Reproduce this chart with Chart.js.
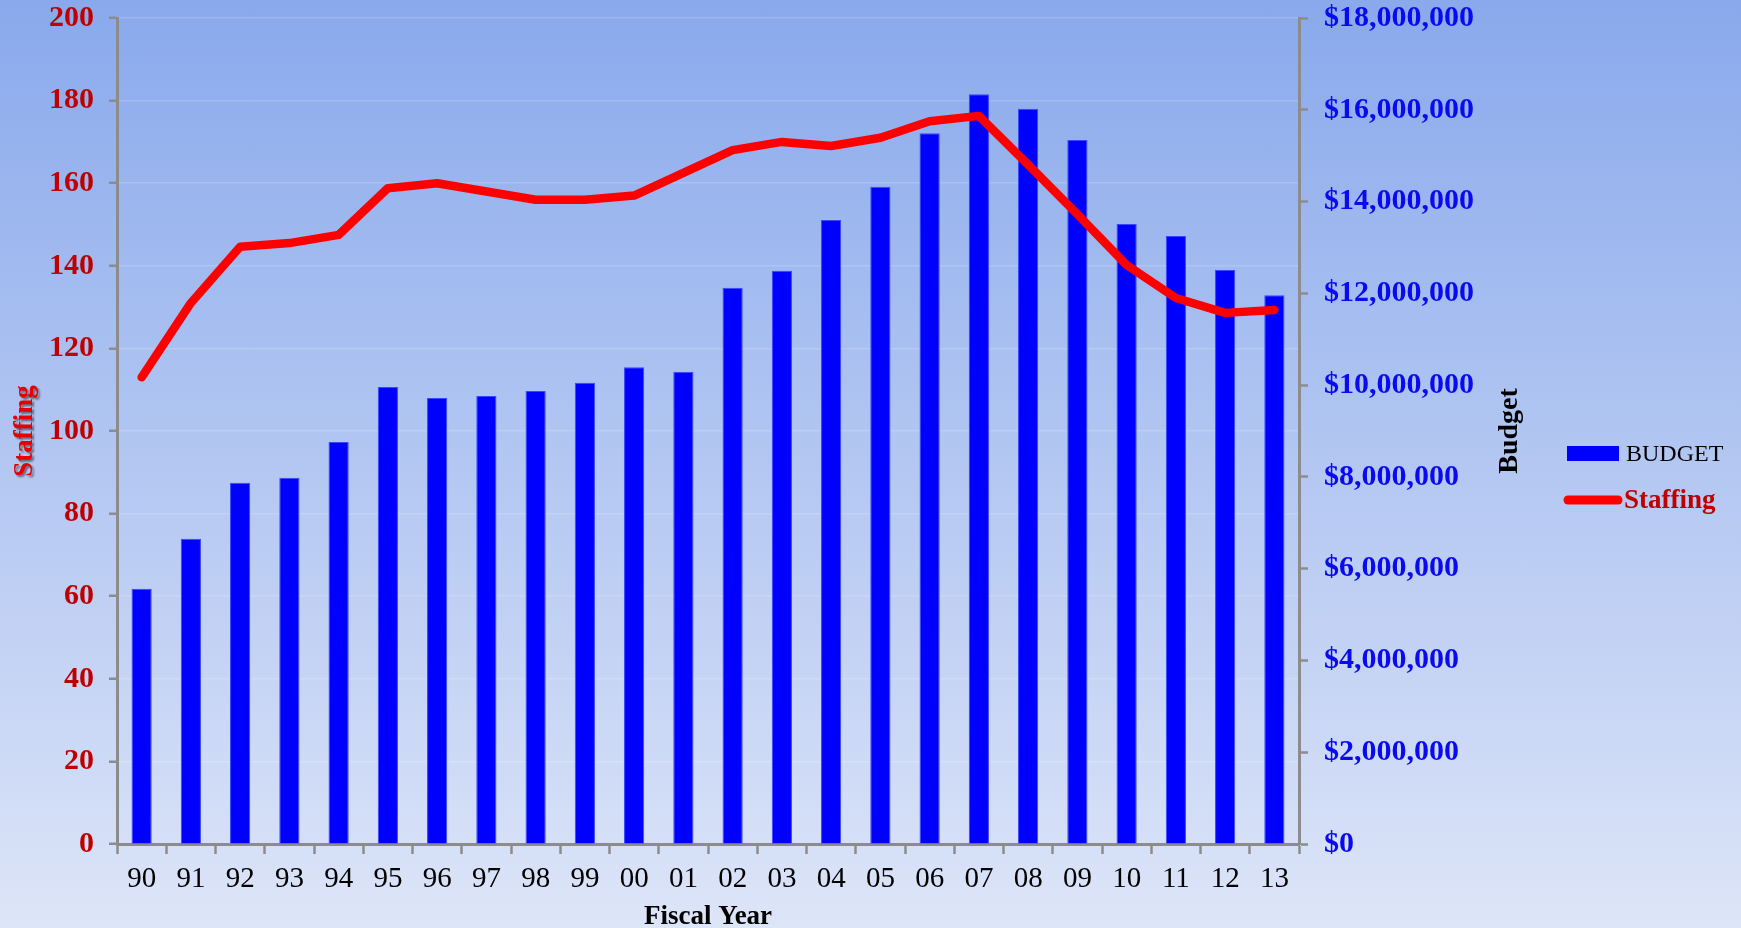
<!DOCTYPE html>
<html><head><meta charset="utf-8">
<script src="https://cdn.jsdelivr.net/npm/chart.js@4/dist/chart.umd.min.js"></script>
<style>
html,body{margin:0;padding:0;}
body{width:1741px;height:928px;background:linear-gradient(to bottom,#89a9ec 0%,#dde5f8 100%);overflow:hidden;}
canvas{display:block;}
</style></head><body>
<canvas id="c" width="1741" height="928"></canvas>
<script>
const fiscalYears = ['90','91','92','93','94','95','96','97','98','99','00','01','02','03','04','05','06','07','08','09','10','11','12','13'];
const staffing = [113, 131, 144.6, 145.5, 147.5, 158.8, 160, 158, 156, 156, 157, 162.5, 168, 170, 169, 171, 175, 176.3, 164.5, 152.5, 140.2, 132.2, 128.6, 129.3];
const budget = [5560000, 6650000, 7870000, 7980000, 8760000, 9960000, 9720000, 9760000, 9870000, 10050000, 10390000, 10290000, 12120000, 12490000, 13600000, 14320000, 15490000, 16340000, 16020000, 15340000, 13510000, 13250000, 12510000, 11960000];
const staffingAxis = { min: 0, max: 200, step: 20 };
const budgetAxis = { min: 0, max: 18000000, step: 2000000 };

const AXIS_GRAY = '#8c8c8c';
const SERIF = '"Liberation Serif", "DejaVu Serif", serif';

const titlesAndLegend = {
  id: 'titlesAndLegend',
  afterDraw(chart) {
    const ctx = chart.ctx; const a = chart.chartArea;
    const midY = (a.top + a.bottom) / 2;
    // Staffing title
    ctx.save();
    ctx.translate(25, midY);
    ctx.rotate(-Math.PI / 2);
    ctx.font = 'bold 27px ' + SERIF;
    ctx.textAlign = 'center'; ctx.textBaseline = 'middle';
    ctx.shadowColor = 'rgba(0,0,0,0.45)'; ctx.shadowOffsetX = 2; ctx.shadowOffsetY = 2; ctx.shadowBlur = 2;
    ctx.fillStyle = '#e80000';
    ctx.fillText('Staffing', 0, 0);
    ctx.restore();
    // Budget title
    ctx.save();
    ctx.translate(1510, midY);
    ctx.rotate(-Math.PI / 2);
    ctx.font = 'bold 28px ' + SERIF;
    ctx.textAlign = 'center'; ctx.textBaseline = 'middle';
    ctx.fillStyle = '#000';
    ctx.fillText('Budget', 0, 0);
    ctx.restore();
    // Fiscal Year
    ctx.save();
    ctx.font = 'bold 27px ' + SERIF;
    ctx.textAlign = 'center'; ctx.textBaseline = 'middle';
    ctx.fillStyle = '#000';
    ctx.fillText('Fiscal Year', (a.left + a.right) / 2, 917);
    ctx.restore();
    // Legend
    ctx.save();
    ctx.fillStyle = '#0000ff';
    ctx.fillRect(1567, 446, 52, 15);
    ctx.font = '24px ' + SERIF;
    ctx.textAlign = 'left'; ctx.textBaseline = 'middle';
    ctx.fillStyle = '#000';
    ctx.fillText(chart.data.datasets[1].label, 1626, 455);
    ctx.strokeStyle = '#ff0000'; ctx.lineWidth = 9; ctx.lineCap = 'round';
    ctx.beginPath(); ctx.moveTo(1568, 500); ctx.lineTo(1618, 500); ctx.stroke();
    ctx.font = 'bold 27px ' + SERIF;
    ctx.fillStyle = '#c00000';
    ctx.fillText(chart.data.datasets[0].label, 1624, 501);
    ctx.restore();
  }
};

new Chart(document.getElementById('c'), {
  data: {
    labels: fiscalYears,
    datasets: [
      {
        type: 'line', label: 'Staffing', data: staffing, yAxisID: 'yStaff',
        borderColor: '#ff0000', borderWidth: 8.5, pointRadius: 0, pointHoverRadius: 0,
        borderCapStyle: 'round', borderJoinStyle: 'round', tension: 0, order: 0
      },
      {
        type: 'bar', label: 'BUDGET', data: budget, yAxisID: 'yBudget',
        backgroundColor: '#0000ff', borderColor: '#3a46ff', borderWidth: 1,
        categoryPercentage: 1, barPercentage: 0.41, order: 1
      }
    ]
  },
  options: {
    responsive: false,
    devicePixelRatio: 1,
    animation: false,
    layout: { padding: { top: 18, left: 0, right: 0, bottom: 0 } },
    plugins: { legend: { display: false }, tooltip: { enabled: false } },
    scales: {
      x: {
        type: 'category',
        offset: true,
        grid: { offset: true, drawOnChartArea: false, tickLength: 10, tickColor: AXIS_GRAY, tickWidth: 2.5 },
        border: { color: AXIS_GRAY, width: 3 },
        ticks: { color: '#000', font: { family: SERIF, size: 29 }, padding: 8, maxRotation: 0, autoSkip: false },
        afterFit: (s) => { s.height = 84; s.paddingLeft = 0; s.paddingRight = 0; }
      },
      yStaff: {
        type: 'linear', position: 'left',
        min: staffingAxis.min, max: staffingAxis.max,
        grid: { color: 'rgba(255,255,255,0.16)', lineWidth: 1.5, tickColor: AXIS_GRAY, tickLength: 8, tickWidth: 2.5 },
        border: { color: AXIS_GRAY, width: 3 },
        ticks: { stepSize: staffingAxis.step, color: '#c00000', font: { family: SERIF, size: 30, weight: 'bold' }, padding: 15 },
        afterFit: (s) => { s.width = 117; s.paddingTop = 0; s.paddingBottom = 0; }
      },
      yBudget: {
        type: 'linear', position: 'right',
        min: budgetAxis.min, max: budgetAxis.max,
        grid: { drawOnChartArea: false, tickColor: AXIS_GRAY, tickLength: 9, tickWidth: 2.5 },
        border: { color: AXIS_GRAY, width: 3 },
        ticks: {
          stepSize: budgetAxis.step, color: '#0a0af0',
          font: { family: SERIF, size: 30, weight: 'bold' }, padding: 16,
          callback: (v) => '$' + Number(v).toLocaleString('en-US')
        },
        afterFit: (s) => { s.width = 442; s.paddingTop = 0; s.paddingBottom = 0; }
      }
    }
  },
  plugins: [titlesAndLegend]
});
</script>
</body></html>
